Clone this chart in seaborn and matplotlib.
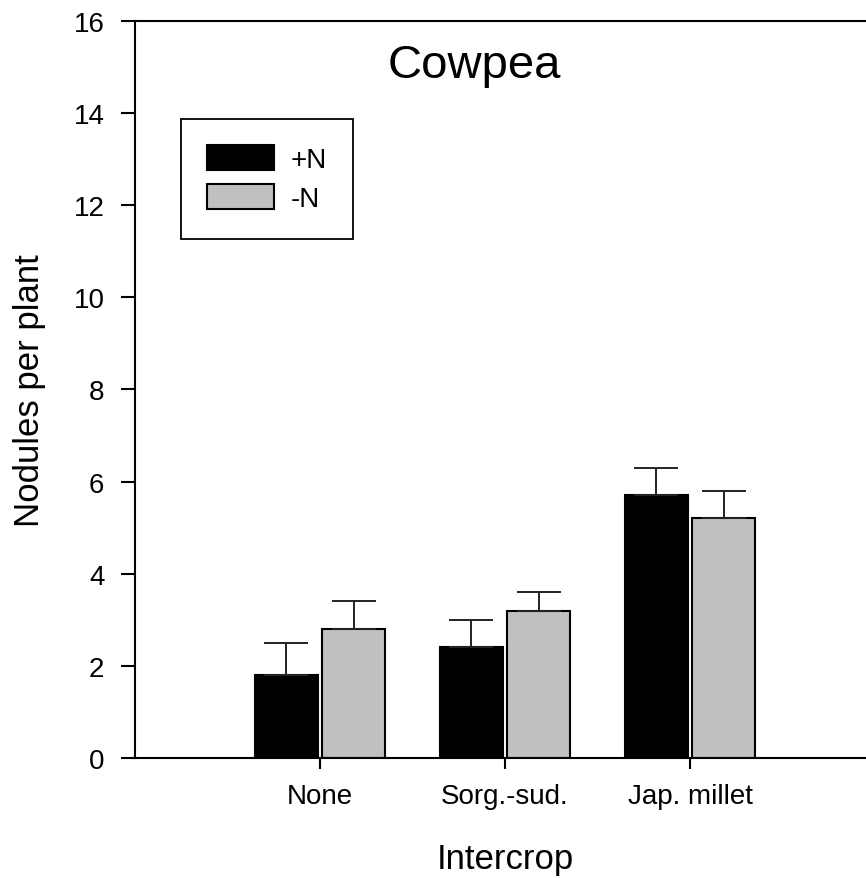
import numpy as np
import pandas as pd
import matplotlib
matplotlib.use('Agg')
import matplotlib.pyplot as plt
import seaborn as sns

# data
intercrops = ['None', 'Sorg.-sud.', 'Jap. millet']
treatments = ['+N', '-N']
plus_n = [1.8, 2.4, 5.7]
minus_n = [2.8, 3.2, 5.2]
plus_n_err = [0.7, 0.6, 0.6]
minus_n_err = [0.6, 0.4, 0.6]

df = pd.DataFrame({
    'Intercrop': intercrops * 2,
    'Treatment': [treatments[0]] * 3 + [treatments[1]] * 3,
    'Nodules': plus_n + minus_n,
})
errs = {'+N': plus_n_err, '-N': minus_n_err}

sns.set_style('ticks', {'text.color': 'black', 'axes.labelcolor': 'black',
                        'xtick.color': 'black', 'ytick.color': 'black',
                        'axes.edgecolor': 'black'})
plt.rcParams['font.family'] = ['Liberation Sans', 'DejaVu Sans']

fig = plt.figure(figsize=(8.66, 8.79), dpi=100)
# axes runs slightly past the right edge, like the original
ax = fig.add_axes([0.1559, 0.1365, 0.8545, 0.8385])

sns.barplot(data=df, x='Intercrop', y='Nodules', hue='Treatment', order=intercrops,
            hue_order=treatments, palette=['black', '#c0c0c0'], width=0.73, gap=0.07,
            edgecolor='black', linewidth=1.5, errorbar=None, ax=ax)

# upper error bars at the centres of the drawn bars
for cont, t in zip(ax.containers, treatments):
    xs = [p.get_x() + p.get_width() / 2 for p in cont.patches]
    ys = [p.get_height() for p in cont.patches]
    ax.errorbar(xs, ys, yerr=[np.zeros(len(ys)), errs[t]], fmt='none',
                ecolor='#222222', elinewidth=1.4, capsize=16, capthick=1.4, zorder=1)

ax.set_xlim(-1.0, 3.0)
ax.set_ylim(0, 16)
ax.set_yticks(range(0, 17, 2))
ax.tick_params(axis='y', direction='out', length=10, width=1.5, labelsize=20, pad=12)
ax.tick_params(axis='x', direction='out', length=8, width=1.5, labelsize=20, pad=10)
for s in ['left', 'bottom', 'top']:
    ax.spines[s].set_linewidth(1.5)
ax.spines['right'].set_visible(False)

ax.set_xlabel('Intercrop', fontsize=25, labelpad=24)
ax.set_ylabel('Nodules per plant', fontsize=25, labelpad=20)
ax.text(0.458, 0.924, 'Cowpea', transform=ax.transAxes, ha='center', va='baseline', fontsize=34)

leg = ax.legend(loc='upper left', bbox_to_anchor=(0.0622, 0.867), fontsize=20, frameon=True,
                fancybox=False, edgecolor='black', handlelength=2.4, handleheight=1.0,
                borderpad=0.95, labelspacing=0.4, handletextpad=0.6, borderaxespad=0)
leg.get_frame().set_linewidth(1.3)
leg.get_frame().set_alpha(1)

fig.savefig('out.png', dpi=100)
